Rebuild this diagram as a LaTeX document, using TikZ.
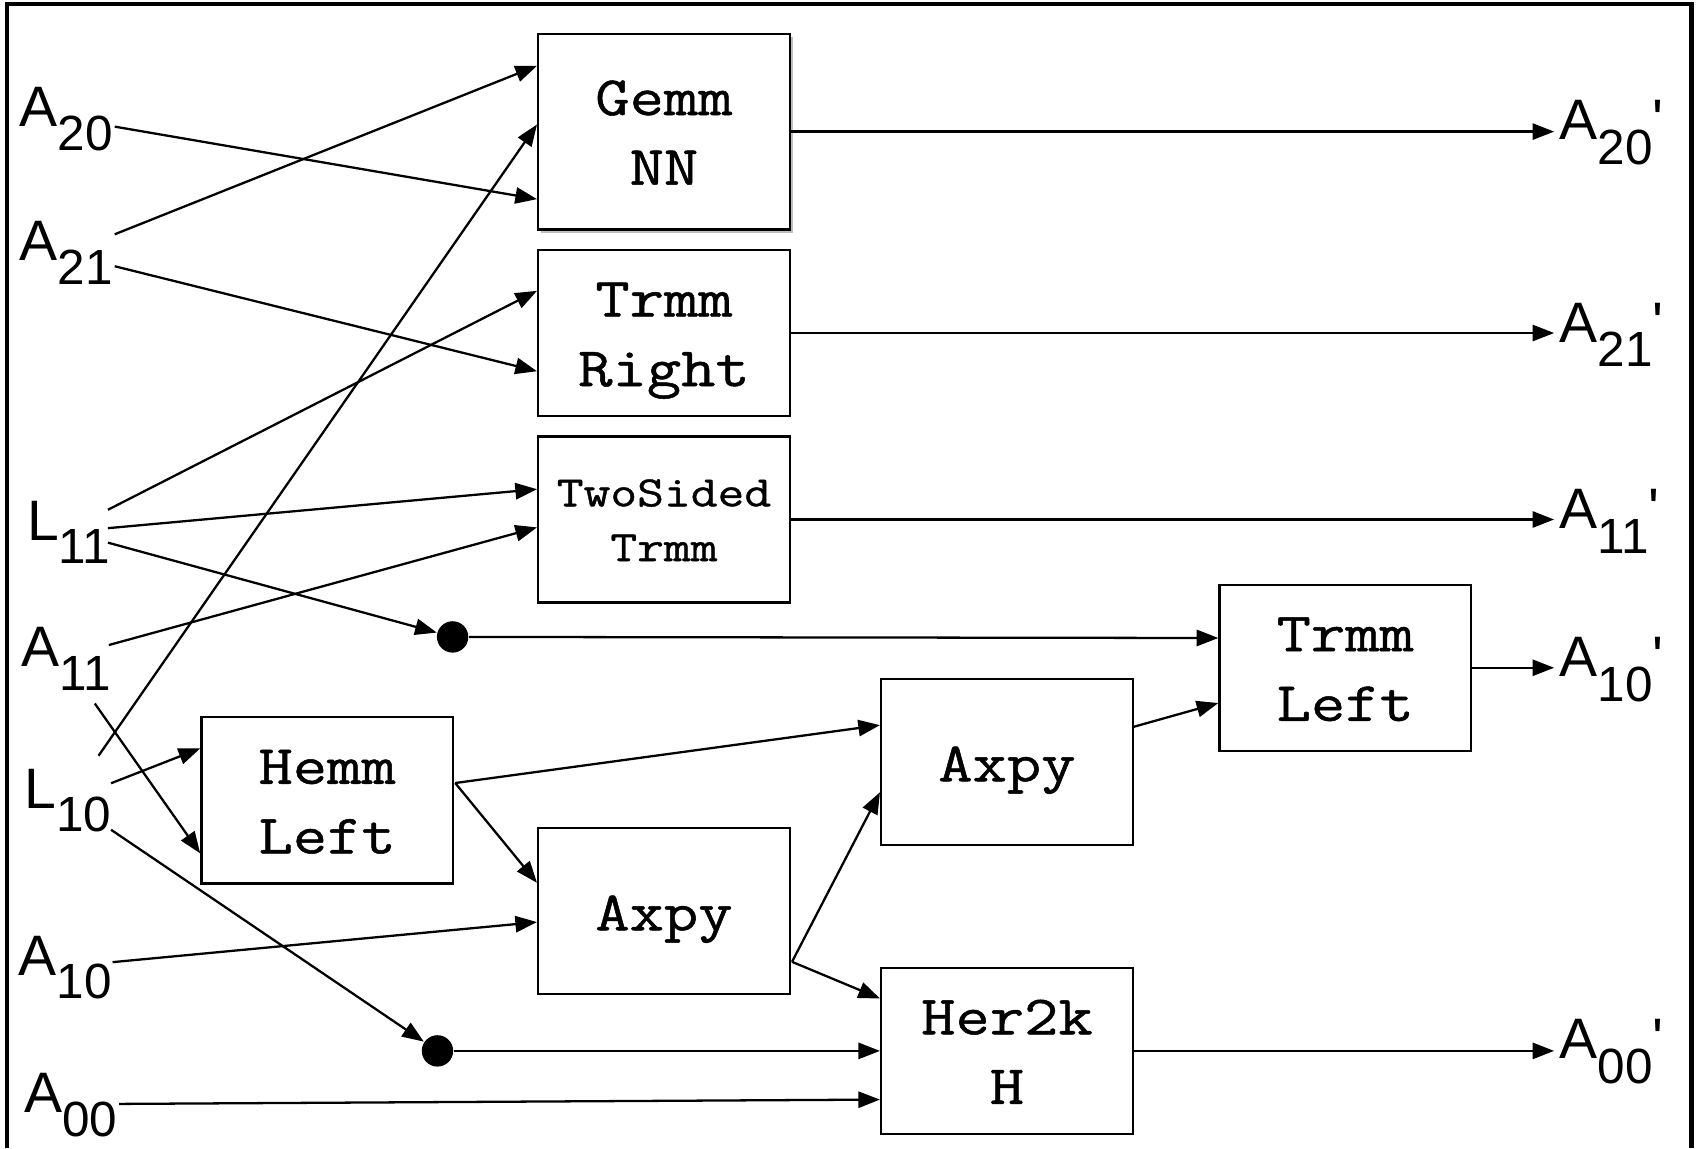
\documentclass[tikz,border=0pt]{standalone}
\usepackage{fontspec}
\usetikzlibrary{arrows.meta,calc,shadows}
\newfontfamily\lblfont{Liberation Sans}
\newfontfamily\boxfont{Latin Modern Mono}[FakeStretch=1.2,FakeBold=0.9]
\newcommand\inlab[2]{{\lblfont\fontsize{15}{15}\selectfont #1\raisebox{-2.2mm}{\fontsize{13}{13}\selectfont #2}}}
\newcommand\outlab[2]{{\lblfont\fontsize{15}{15}\selectfont #1\raisebox{-2.3mm}{\fontsize{13}{13}\selectfont #2}'}}
\newcommand\bt[2]{\raisebox{#1}[\height][\depth]{\begin{tabular}{@{}c@{}}#2\end{tabular}}}
\begin{document}
\begin{tikzpicture}[x=0.1mm,y=-0.1mm,
  lab/.style={inner sep=0,outer sep=0,anchor=base west},
  op/.style={draw,fill=white,line width=0.6pt,minimum width=23.25mm,minimum height=15.35mm,inner sep=0,font=\boxfont\fontsize{14.6}{18.3}\selectfont},
  dot/.style={circle,fill,inner sep=0,minimum size=2.9mm},
  arr/.style={line width=0.6pt,-{Triangle[length=2mm,width=1.5mm]}}]
\useasboundingbox (0,0) rectangle (1568,1061);
\draw[line width=1.2pt] (6.5,1061) -- (6.5,3.5) -- (1563,3.5) -- (1563,1061);

% operation boxes
\node[op,minimum height=18.1mm,drop shadow={shadow xshift=0.3mm,shadow yshift=-0.3mm,opacity=0.5}] (gemm) at (613.5,121.6) {\bt{-0.4mm}{Gemm\\NN}};
\node[op] (trmmR) at (613.5,307.7) {\bt{-0.4mm}{Trmm\\Right}};
\node[op,font=\boxfont\fontsize{11.4}{14.4}\selectfont] (twos) at (613.5,480) {\bt{-0.3mm}{TwoSided\\Trmm}};
\node[op] (hemm) at (302.3,739.5) {\bt{-0.4mm}{Hemm\\Left}};
\node[op] (axpyL) at (613.5,841.7) {\bt{-0.5mm}{Axpy}};
\node[op] (axpyU) at (930.4,704) {\bt{-0.5mm}{Axpy}};
\node[op] (trmmL) at (1243,617) {\bt{-0.4mm}{Trmm\\Left}};
\node[op] (her2k) at (930.4,971) {\bt{-0.4mm}{Her2k\\H}};

% inputs
\node[lab] (a20) at (18,117) {\inlab{A}{20}};
\node[lab] (a21) at (18,241) {\inlab{A}{21}};
\node[lab] (l11) at (25,499) {\inlab{L}{11}};
\node[lab] (a11) at (20,616) {\inlab{A}{11}};
\node[lab] (l10) at (22.5,746.7) {\inlab{L}{10}};
\node[lab] (a10) at (17.5,901) {\inlab{A}{10}};
\node[lab] (a00) at (22.5,1028) {\inlab{A}{00}};

% outputs
\node[lab] (a20p) at (1441,129) {\outlab{A}{20}};
\node[lab] (a21p) at (1441,316) {\outlab{A}{21}};
\node[lab] (a11p) at (1441,488) {\outlab{A}{11}};
\node[lab] (a10p) at (1441,625) {\outlab{A}{10}};
\node[lab] (a00p) at (1441,978) {\outlab{A}{00}};

% junction dots
\node[dot] (d1) at (418.2,588.5) {};
\node[dot] (d2) at (404.2,971) {};

% connectors
\draw[arr] ($(a20.base east)+(2,0)$) -- ($(gemm.west)+(0,62.4)$);
\draw[arr] ($(a21.base east)+(2,-24.5)$) -- ($(gemm.west)+(0,-60.8)$);
\draw[arr] ($(a21.base east)+(2,5)$) -- ($(trmmR.west)+(0,35.3)$);
\draw[arr] ($(l11.base east)+(-2,-28)$) -- ($(trmmR.west)+(0,-39)$);
\draw[arr] ($(l11.base east)+(-2,-11)$) -- ($(twos.west)+(0,-28)$);
\draw[arr] ($(l11.base east)+(-2,2.4)$) -- (d1);
\draw[arr] ($(a11.base east)+(-2,-20)$) -- ($(twos.west)+(0,7.3)$);
\draw[arr] ($(a11.base east)+(-15,34)$) -- ($(hemm.west)+(0,49)$);
\draw[arr] ($(l10.base east)+(-11.6,-48.4)$) -- ($(gemm.west)+(0,-6.6)$);
\draw[arr] ($(l10.base east)+(0,-23)$) -- ($(hemm.west)+(0,-48)$);
\draw[arr] ($(l10.base east)+(0,20)$) -- (d2);
\draw[arr] ($(a10.base east)+(0.5,-12)$) -- ($(axpyL.west)+(0,10.3)$);
\draw[arr] ($(a00.base east)+(1.5,-8)$) -- ($(her2k.west)+(0,45)$);
\draw[arr] (d1) -- ($(trmmL.west)+(0,-27.5)$);
\draw[arr] (d2) -- (her2k.west);
\draw[arr] ($(hemm.east)+(1,-16)$) -- ($(axpyU.west)+(0,-34)$);
\draw[arr] ($(hemm.east)+(1,-16)$) -- ($(axpyL.west)+(0,-26)$);
\draw[arr] ($(axpyL.east)+(1,47)$) -- ($(axpyU.west)+(0,28)$);
\draw[arr] ($(axpyL.east)+(1,47)$) -- ($(her2k.west)+(0,-48.4)$);
\draw[arr] ($(axpyU.east)+(0,-32.5)$) -- ($(trmmL.west)+(0,32.6)$);
\draw[arr] (gemm.east) -- ($(gemm.east -| a20p.west)+(-5,0)$);
\draw[arr] (trmmR.east) -- ($(trmmR.east -| a21p.west)+(-5,0)$);
\draw[arr] (twos.east) -- ($(twos.east -| a11p.west)+(-5,0)$);
\draw[arr] (trmmL.east) -- ($(trmmL.east -| a10p.west)+(-5,0)$);
\draw[arr] (her2k.east) -- ($(her2k.east -| a00p.west)+(-5,0)$);
\end{tikzpicture}
\end{document}
